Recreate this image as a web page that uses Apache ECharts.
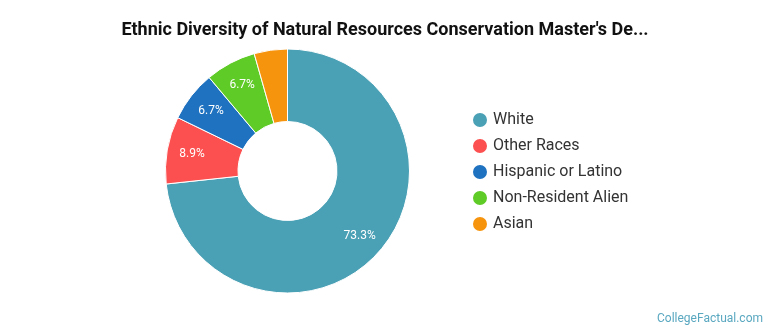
<!DOCTYPE html>
<html><head><meta charset="utf-8">
<script src="https://cdn.jsdelivr.net/npm/echarts@6/dist/echarts.min.js"></script>
<style>html,body{margin:0;padding:0;background:#fff}#c{width:770px;height:335px}</style>
</head><body><div id="c"></div>
<script>
var categories = ["White", "Other Races", "Hispanic or Latino", "Non-Resident Alien", "Asian"];
var values = [73.3, 8.9, 6.7, 6.7, 4.4];
var colors = ["#4aa0b5", "#fc5050", "#1f72bf", "#5fcb27", "#f7940e"];
var chart = echarts.init(document.getElementById('c'));
var pieData = categories.map(function (c, i) { return {name: c, value: values[i], itemStyle: {color: colors[i]}}; });
chart.setOption({
  animation: false,
  title: {
    text: "Ethnic Diversity of Natural Resources Conservation Master's De...",
    left: 'center', top: 16,
    textStyle: {fontFamily: 'Roboto', fontSize: 18, fontWeight: 'bold', color: '#111'}
  },
  graphic: [{
    type: 'text', right: 7, top: 313,
    style: {text: 'CollegeFactual.com', fill: '#5aa8c0', font: '12px Roboto'}
  }],
  legend: {
    orient: 'vertical', left: 466, top: 106,
    icon: 'circle', itemWidth: 16, itemHeight: 16, itemGap: 8,
    textStyle: {fontFamily: 'Roboto', fontSize: 16, color: '#333'},
    data: categories
  },
  series: [{
    type: 'pie',
    center: [287.5, 171],
    radius: [49.5, 122],
    startAngle: 90,
    clockwise: true,
    itemStyle: {borderColor: '#fff', borderWidth: 1},
    label: {show: false},
    labelLine: {show: false},
    emphasis: {disabled: true},
    data: pieData
  }, {
    type: 'pie',
    silent: true,
    center: [287.5, 171],
    radius: [66, 122],
    startAngle: 90,
    clockwise: true,
    itemStyle: {color: 'rgba(0,0,0,0)', borderWidth: 0},
    label: {
      position: 'inside', color: '#fff', fontFamily: 'Roboto', fontSize: 12,
      formatter: function (p) { return p.value >= 5 ? p.value.toFixed(1) + '%' : ''; }
    },
    labelLine: {show: false},
    emphasis: {disabled: true},
    data: categories.map(function (c, i) { return {name: c, value: values[i], itemStyle: {color: 'rgba(0,0,0,0)'}}; })
  }]
});
</script></body></html>
